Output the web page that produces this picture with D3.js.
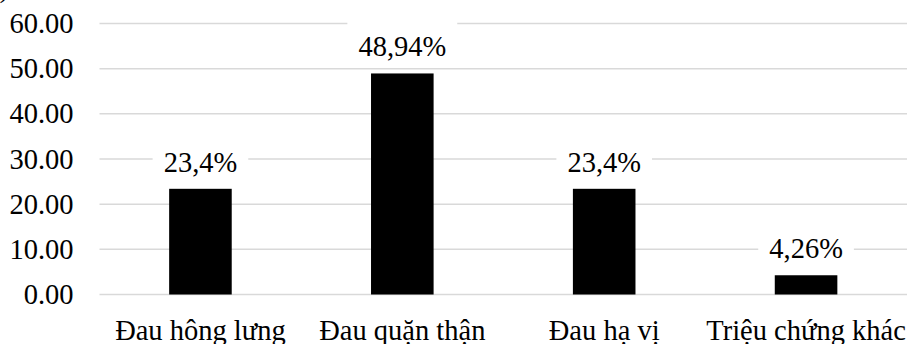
<!DOCTYPE html>
<html>
<head>
<meta charset="utf-8">
<script src="https://cdn.jsdelivr.net/npm/d3@7/dist/d3.min.js"></script>
</head>
<body style="margin:0;background:#fff">
<script>
// Symptom categories and their share (%)
const categories = ["Đau hông lưng", "Đau quặn thận", "Đau hạ vị", "Triệu chứng khác"];
const values = [23.4, 48.94, 23.4, 4.26];
const valueLabels = ["23,4%", "48,94%", "23,4%", "4,26%"];
const yTicks = [0, 10, 20, 30, 40, 50, 60];

const FONT = '"Liberation Serif"';
const FS = "28.5px";
const width = 911, height = 344;
const svg = d3.select("body").append("svg")
  .attr("width", width).attr("height", height)
  .style("display", "block");

const x = d3.scaleBand()
  .domain(categories)
  .range([99.5, 907])
  .paddingInner(0.69)
  .paddingOuter(0.345);

const y = d3.scaleLinear()
  .domain([0, 60])
  .range([294.5, 23.5]);

// axis unit, mostly clipped by the top edge
svg.append("text")
  .attr("x", 9).attr("y", -3)
  .attr("text-anchor", "end")
  .style("font-family", FONT)
  .style("font-size", FS)
  .style("fill", "#000")
  .text("(%)");

// horizontal gridlines
svg.append("g").selectAll("line")
  .data(yTicks)
  .join("line")
  .attr("x1", 99.5).attr("x2", 907)
  .attr("y1", d => y(d)).attr("y2", d => y(d))
  .attr("stroke", "#d9d9d9")
  .attr("stroke-width", 1.5);

// y axis labels
const yAxis = svg.append("g")
  .attr("transform", "translate(99.5,0)")
  .call(d3.axisLeft(y).tickValues(yTicks).tickFormat(d3.format(".2f")).tickSize(0).tickPadding(26));
yAxis.select(".domain").remove();
yAxis.selectAll("text")
  .style("font-family", FONT)
  .style("font-size", FS)
  .style("fill", "#000");

// bars
svg.append("g").selectAll("rect")
  .data(values)
  .join("rect")
  .attr("x", (d, i) => x(categories[i]))
  .attr("width", x.bandwidth())
  .attr("y", d => y(d))
  .attr("height", d => y(0) - y(d))
  .attr("fill", "#000");

// value labels on white boxes
const lbl = svg.append("g").selectAll("g")
  .data(values)
  .join("g")
  .attr("transform", (d, i) => `translate(${x(categories[i]) + x.bandwidth() / 2},${y(d) - 17})`);

lbl.append("text")
  .attr("text-anchor", "middle")
  .style("font-family", FONT)
  .style("font-size", FS)
  .style("fill", "#000")
  .text((d, i) => valueLabels[i]);

lbl.each(function () {
  const g = d3.select(this);
  const w = g.select("text").node().getComputedTextLength();
  g.insert("rect", "text")
    .attr("x", -w / 2 - 11)
    .attr("y", -35)
    .attr("width", w + 22)
    .attr("height", 44)
    .attr("fill", "#fff");
});

// category labels
const xAxis = svg.append("g")
  .attr("transform", `translate(0,${y(0)})`)
  .call(d3.axisBottom(x).tickSize(0).tickPadding(0));
xAxis.select(".domain").remove();
xAxis.selectAll("text")
  .attr("dy", null)
  .attr("y", 45)
  .style("font-family", FONT)
  .style("font-size", FS)
  .style("fill", "#000");
</script>
</body>
</html>
